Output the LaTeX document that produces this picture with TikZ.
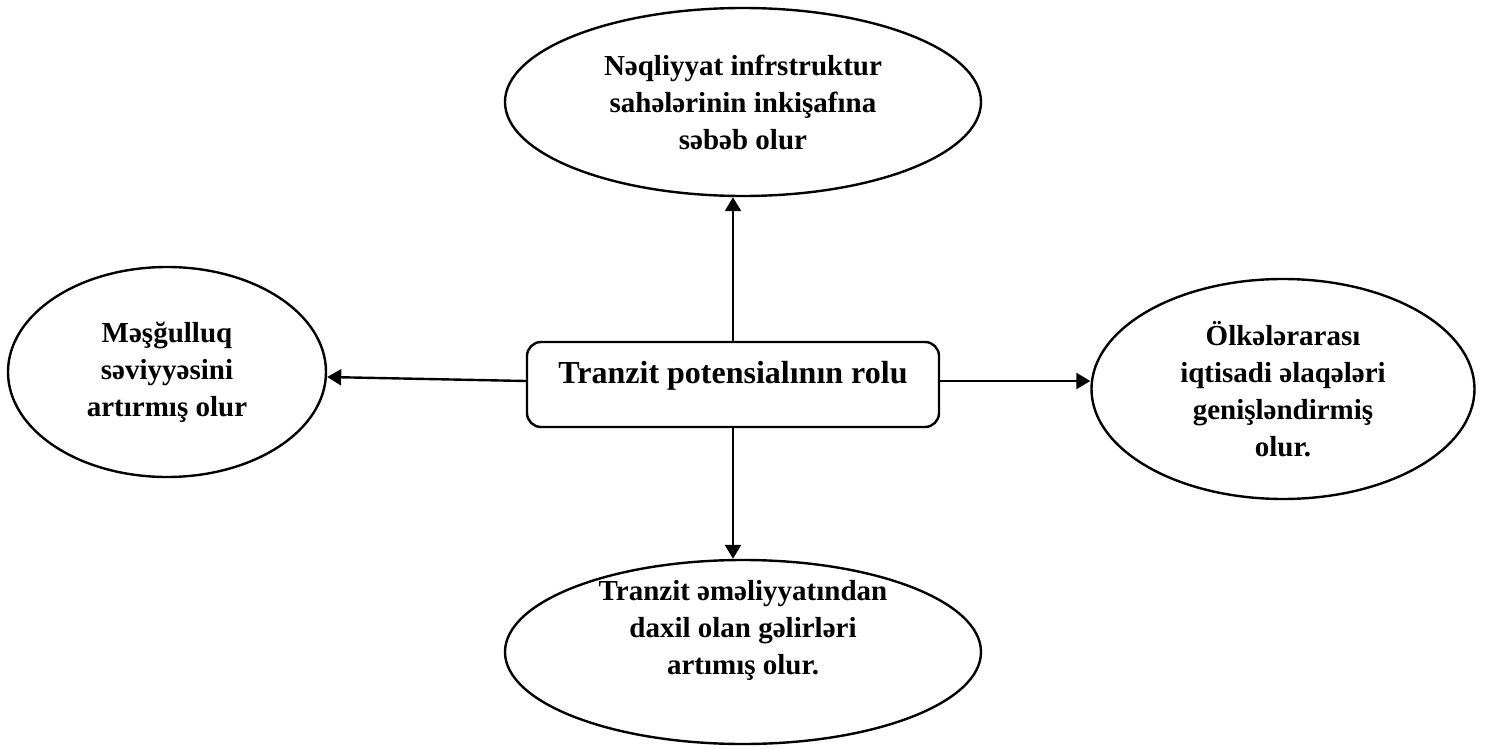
\documentclass[tikz,border=0pt]{standalone}
\usepackage{fontspec}
\setmainfont{Liberation Serif}
\usepackage{tikz}
\usetikzlibrary{shapes.geometric, arrows.meta, positioning}

\tikzset{
  oval/.style={draw, ellipse, inner sep=0pt, align=center,
    font=\bfseries\fontsize{14.5}{18.5}\selectfont},
  rolebox/.style={draw, rectangle, rounded corners=7pt, inner sep=0pt,
    minimum width=206pt, minimum height=42.5pt, text height=11pt, text depth=12.5pt,
    font=\bfseries\fontsize{16}{19}\selectfont},
  link/.style={-{Triangle[length=7pt, width=8pt]}}
}

\begin{document}
\begin{tikzpicture}[x=0.5pt, y=-0.5pt, line width=1.2pt]
  \useasboundingbox (0, 0) rectangle (1485, 749);

  \node[rolebox] (rol) at (733, 384.5) {Tranzit potensialının rolu};

  \node[oval, minimum width=238pt, minimum height=94pt] (neqliyyat) at (743, 102)
    {Nəqliyyat infrstruktur\\sahələrinin inkişafına\\səbəb olur};
  \node[oval, minimum width=159pt, minimum height=105pt] (mesgulluq) at (167, 372)
    {Məşğulluq\\səviyyəsini\\artırmış olur};
  \node[oval, minimum width=191.5pt, minimum height=110pt] (olke) at (1283, 389)
    {Ölkələrarası\\iqtisadi əlaqələri\\genişləndirmiş\\olur.};
  \node[oval, minimum width=238pt, minimum height=92pt,
    label={[oval, draw=none, yshift=11pt]center:{Tranzit əməliyyatından\\daxil olan gəlirləri\\artımış olur.}}]
    (gelir) at (743, 652) {};

  % arrows from the role box
  \draw[link] (rol.north) -- (rol.north |- neqliyyat.south);
  \draw[link] (rol.south) -- (rol.south |- gelir.north);
  \draw[link] ([yshift=1.75pt]rol.west) -- ([yshift=-2.5pt]mesgulluq.east);
  \draw[link] ([yshift=1.75pt]rol.east) -- ([yshift=1.75pt]rol.east -| olke.west);
\end{tikzpicture}
\end{document}
